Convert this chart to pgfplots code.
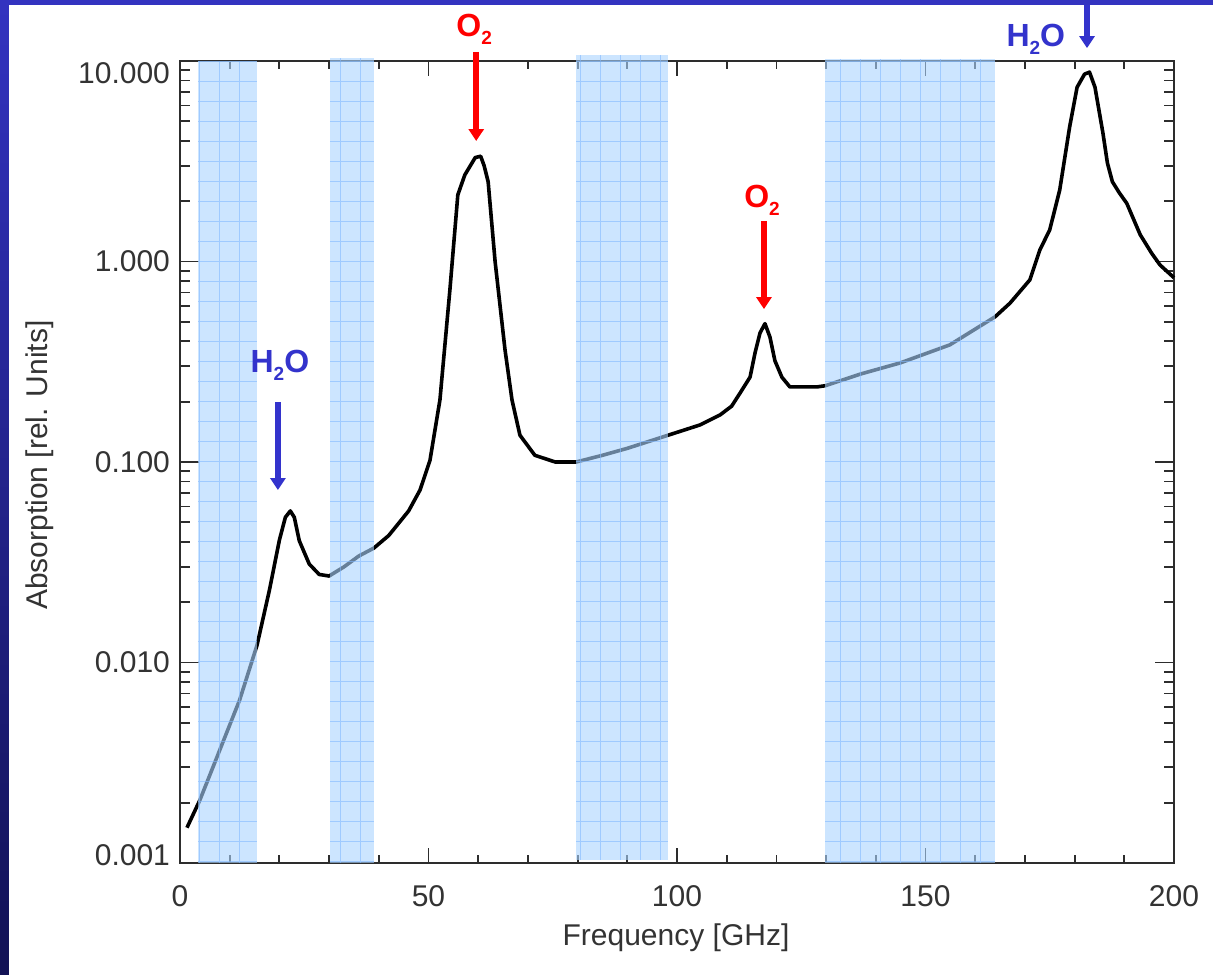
\documentclass[border=0pt]{standalone}
\usepackage{pgfplots}
\pgfplotsset{compat=1.18}
\usepackage{fontspec}
\setmainfont{Liberation Sans}
\usetikzlibrary{arrows.meta}
\definecolor{annblue}{RGB}{51,51,204}
\definecolor{annred}{RGB}{255,0,0}
\definecolor{bandfill}{RGB}{170,212,255}
\definecolor{bandgrid}{RGB}{130,185,255}
\definecolor{frametop}{RGB}{51,51,192}
\definecolor{framebot}{RGB}{18,18,85}
\definecolor{axcol}{RGB}{45,45,45}
\newcommand{\sub}[1]{\raisebox{-4pt}{\fontsize{9.5}{10}\selectfont #1}}
\newcommand{\annfont}{\fontsize{16}{18}\selectfont\bfseries}
\newcommand{\band}[4]{%
  \addplot[draw=none, fill=bandfill, fill opacity=0.6] coordinates {(#1,#3) (#2,#3) (#2,#4) (#1,#4)} -- cycle;
  \draw[bandgrid, opacity=0.6, line width=0.5pt, step=10pt] (axis cs:#1,#3) grid (axis cs:#2,#4);
}
\begin{document}
\begin{tikzpicture}
\path[use as bounding box, fill=white] (-90pt,-55.5pt) rectangle (516.5pt,431.5pt);
\begin{axis}[
  at={(0,0)}, anchor=south west,
  scale only axis, width=497pt, height=401pt,
  xmin=0, xmax=200, ymin=0.001, ymax=10,
  ymode=log,
  clip=false,
  xtick={0,50,100,150,200},
  minor x tick num=4,
  ytick={0.001,0.01,0.1,1,10},
  yticklabels={\raisebox{4pt}[\height][\depth]{0.001},0.010,0.100,1.000,\raisebox{-6pt}[\height][\depth]{10.000}},
  tick align=inside,
  major tick length=9pt, minor tick length=4.5pt,
  xtick style={/pgfplots/major tick length=7.5pt,/pgfplots/minor tick length=4pt},
  ytick style={/pgfplots/major tick length=9.5pt,/pgfplots/minor tick length=5pt},
  every tick/.style={axcol, line width=0.9pt},
  axis line style={axcol, line width=1pt},
  /pgf/number format/assume math mode=true,
  tick label style={font=\fontsize{15}{18}\selectfont, text=black!80},
  xticklabel style={yshift=-7.5pt},
  yticklabel style={xshift=-1.5pt},
  xlabel={Frequency [GHz]},
  ylabel={Absorption [rel. Units]},
  label style={font=\fontsize{15}{18}\selectfont, text=black!80},
  xlabel style={at={(rel axis cs:0.499,-0.0935)}, anchor=center},
  ylabel style={at={(rel axis cs:-0.1408,0.496)}, anchor=center},
]
\addplot[black, line width=1.8pt, line join=round] coordinates {
(1.4,0.0015) (4,0.00206) (8,0.00366) (12,0.0065) (15.5,0.0122) (18,0.023)
(20,0.0408) (21.2,0.053) (22.2,0.057) (23,0.053) (24,0.0405) (26,0.031)
(28,0.0275) (30,0.027) (33,0.030) (36,0.034) (39,0.0372) (42,0.043)
(46,0.057) (48.3,0.0725) (50.3,0.102) (52.3,0.204) (54.3,0.72) (55.9,2.15)
(57.3,2.7) (59.4,3.3) (60.5,3.35) (61.2,3.0) (62,2.5) (63.4,1.0)
(65.4,0.362) (66.8,0.204) (68.4,0.136) (71.4,0.108) (75.5,0.1) (79.7,0.1)
(85,0.108) (90,0.117) (98.2,0.136) (104.6,0.153) (108.7,0.172) (111,0.19)
(112.7,0.221) (114.7,0.265) (115.7,0.35) (116.7,0.44) (117.7,0.49) (118.7,0.42)
(119.7,0.32) (121.1,0.265) (122.7,0.237) (128.2,0.237) (129.8,0.24) (137,0.275)
(144.9,0.312) (154.9,0.384) (164,0.53) (167,0.62) (171,0.81) (173,1.14)
(175,1.44) (177,2.27) (179,4.69) (180.5,7.4) (182,8.6) (183,8.8)
(184.1,7.4) (185.7,4.37) (186.6,3.1) (187.6,2.5) (189,2.2) (190.5,1.95)
(193.2,1.36) (195.5,1.1) (197.2,0.96) (200,0.83)
};
\band{3.6}{15.5}{0.001}{10}
\band{30.2}{39}{0.001}{10.35}
\band{79.7}{98.2}{0.00104}{10.7}
\band{129.8}{164}{0.001}{10.2}
% annotations
\node[annblue, font=\annfont, anchor=base] at (axis cs:20.1,0.278) {H\sub{2}O};
\draw[annblue, line width=3pt, -{Triangle[length=6pt,width=7.5pt]}] (axis cs:19.7,0.199) -- (axis cs:19.7,0.0725);
\node[annred, font=\annfont, anchor=base] at (axis cs:59.2,13.2) {O\sub{2}};
\draw[annred, line width=3pt, -{Triangle[length=6pt,width=7.5pt]}] (axis cs:59.6,11.1) -- (axis cs:59.6,3.99);
\node[annred, font=\annfont, anchor=base] at (axis cs:117.1,1.87) {O\sub{2}};
\draw[annred, line width=3pt, -{Triangle[length=6pt,width=7.5pt]}] (axis cs:117.5,1.59) -- (axis cs:117.5,0.579);
\node[annblue, font=\annfont, anchor=base] at (axis cs:172.2,11.75) {H\sub{2}O};
\draw[annblue, line width=3pt, -{Triangle[length=6pt,width=7.5pt]}] (axis cs:182.5,22) -- (axis cs:182.5,11.6);
\end{axis}
\shade[top color=frametop, bottom color=framebot] (-90pt,-55.5pt) rectangle (-85.5pt,431.5pt);
\fill[frametop] (-90pt,428.75pt) rectangle (516.5pt,431.5pt);
\end{tikzpicture}
\end{document}
